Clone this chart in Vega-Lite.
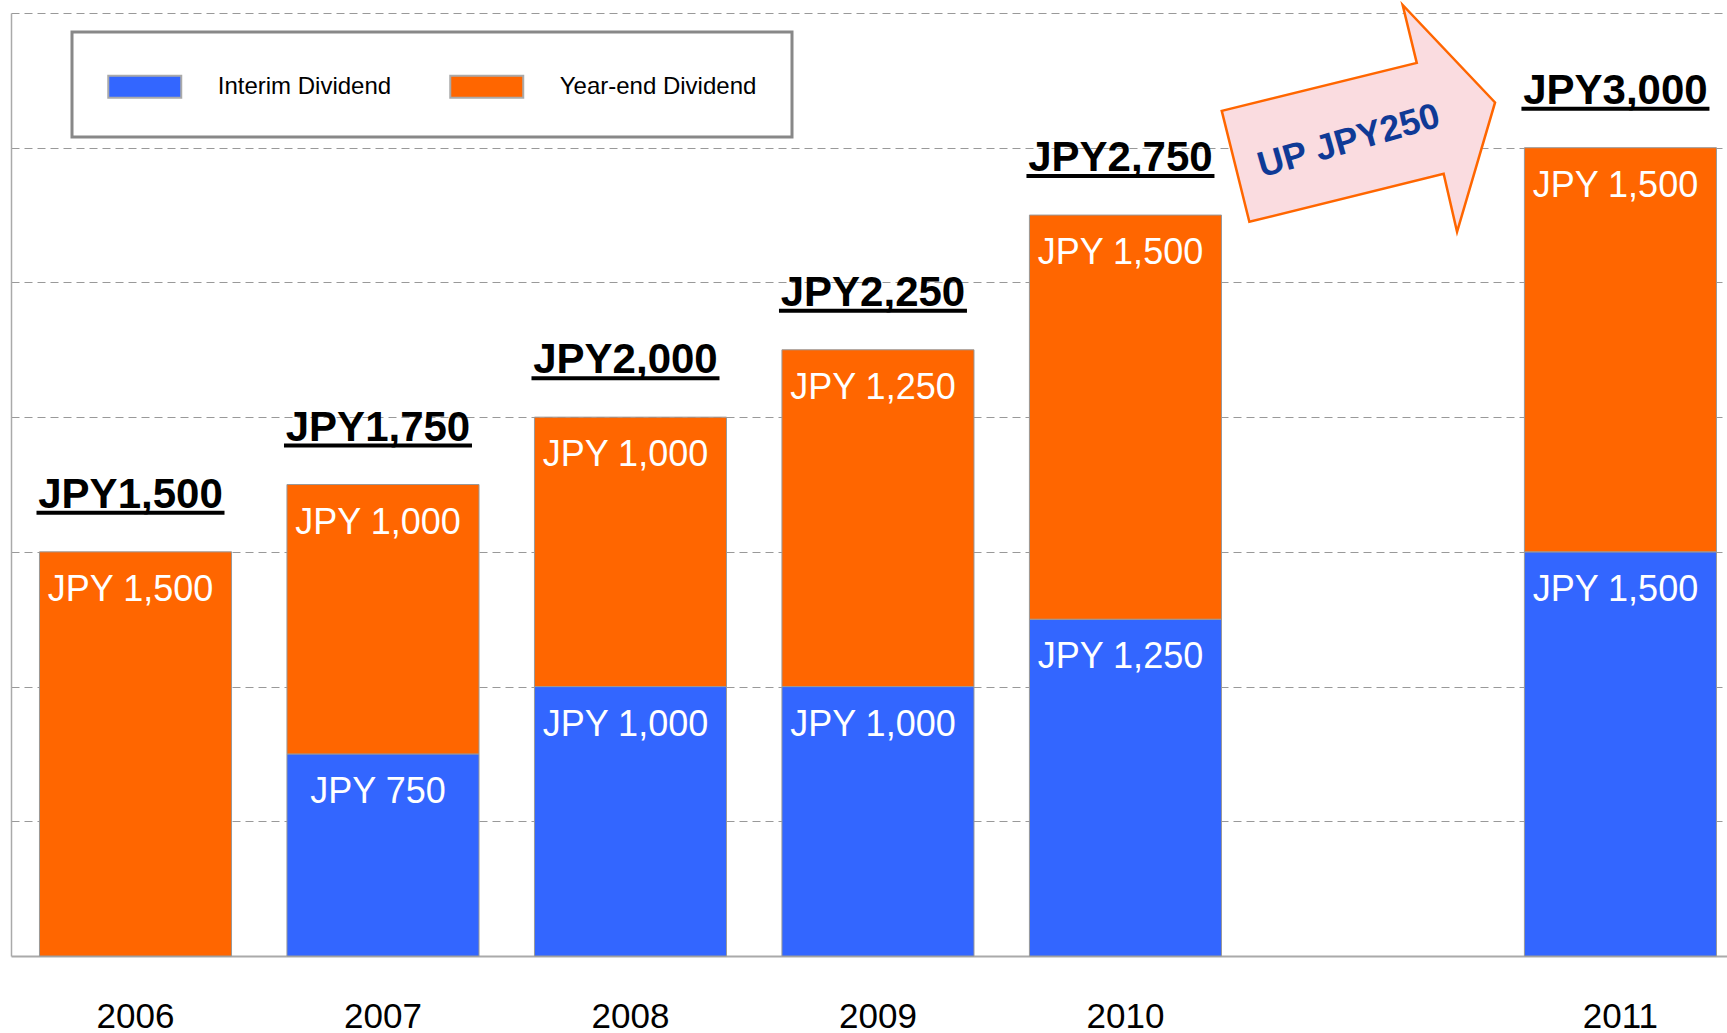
{
  "$schema": "https://vega.github.io/schema/vega-lite/v6.json",
  "width": 1716,
  "height": 943,
  "autosize": {"type": "none"},
  "padding": {"left": 11, "top": 13, "right": 0, "bottom": 77},
  "background": "white",
  "config": {"view": {"stroke": null}, "font": "Liberation Sans"},
  "datasets": {
    "dividends": [
      {"year": "2006", "type": "Year-end Dividend", "value": 1500, "label": "JPY 1,500"},
      {"year": "2007", "type": "Interim Dividend", "value": 750, "label": "JPY 750"},
      {"year": "2007", "type": "Year-end Dividend", "value": 1000, "label": "JPY 1,000"},
      {"year": "2008", "type": "Interim Dividend", "value": 1000, "label": "JPY 1,000"},
      {"year": "2008", "type": "Year-end Dividend", "value": 1000, "label": "JPY 1,000"},
      {"year": "2009", "type": "Interim Dividend", "value": 1000, "label": "JPY 1,000"},
      {"year": "2009", "type": "Year-end Dividend", "value": 1250, "label": "JPY 1,250"},
      {"year": "2010", "type": "Interim Dividend", "value": 1250, "label": "JPY 1,250"},
      {"year": "2010", "type": "Year-end Dividend", "value": 1500, "label": "JPY 1,500"},
      {"year": "2011", "type": "Interim Dividend", "value": 1500, "label": "JPY 1,500"},
      {"year": "2011", "type": "Year-end Dividend", "value": 1500, "label": "JPY 1,500"}
    ],
    "totals": [
      {"year": "2006", "total": 1500, "label": "JPY1,500"},
      {"year": "2007", "total": 1750, "label": "JPY1,750"},
      {"year": "2008", "total": 2000, "label": "JPY2,000"},
      {"year": "2009", "total": 2250, "label": "JPY2,250"},
      {"year": "2010", "total": 2750, "label": "JPY2,750"},
      {"year": "2011", "total": 3000, "label": "JPY3,000"}
    ],
    "arrow": [
      {"year": " ", "v": 3100, "tv": 3050, "label": "UP JPY250"}
    ]
  },
  "layer": [
    {
      "data": {"name": "dividends"},
      "transform": [
        {"stack": "value", "groupby": ["year"], "sort": [{"field": "type", "order": "ascending"}], "as": ["v0", "v1"]}
      ],
      "layer": [
        {
          "mark": {"type": "bar", "stroke": "#999999", "strokeWidth": 1},
          "encoding": {
            "x": {
              "field": "year",
              "type": "nominal",
              "scale": {
                "domain": ["2006", "2007", "2008", "2009", "2010", " ", "2011"],
                "paddingInner": 0.224,
                "paddingOuter": 0.0788,
                "align": 0.73
              },
              "axis": {
                "title": null,
                "ticks": false,
                "tickSize": 0,
                "labelAngle": 0,
                "labelFontSize": 35,
                "labelColor": "black",
                "labelFont": "Liberation Sans",
                "labelBaseline": "alphabetic",
                "labelPadding": 71,
                "domainColor": "#aaaaaa",
                "domainWidth": 2,
                "grid": false
              }
            },
            "y": {
              "field": "v1",
              "type": "quantitative",
              "scale": {"domain": [0, 3500], "nice": false},
              "axis": {
                "values": [500, 1000, 1500, 2000, 2500, 3000, 3500],
                "labels": false,
                "ticks": false,
                "title": null,
                "grid": true,
                "gridDash": [8, 5],
                "gridColor": "#999999",
                "gridWidth": 1,
                "domain": true,
                "domainColor": "#aaaaaa",
                "domainWidth": 1.5
              }
            },
            "y2": {"field": "v0"},
            "color": {
              "field": "type",
              "type": "nominal",
              "scale": {"domain": ["Interim Dividend", "Year-end Dividend"], "range": ["#3366FF", "#FF6600"]},
              "legend": {
                "orient": "none",
                "legendX": 61,
                "legendY": 19,
                "direction": "horizontal",
                "title": null,
                "symbolType": "M-2,-0.6H2V0.6H-2Z",
                "symbolSize": 1332.25,
                "symbolOffset": 18.25,
                "symbolStrokeColor": "#aaaaaa",
                "symbolStrokeWidth": 2,
                "symbolOpacity": 1,
                "labelFontSize": 24,
                "labelFont": "Liberation Sans",
                "labelColor": "black",
                "labelOffset": 53.5,
                "labelLimit": 500,
                "columnPadding": 54,
                "padding": 35,
                "strokeColor": "#888888",
                "fillColor": "white",
                "encode": {"legend": {"update": {"strokeWidth": {"value": 3}}}}
              }
            }
          }
        },
        {
          "mark": {"type": "text", "fontSize": 36, "color": "white", "dy": 49, "dx": -5, "baseline": "alphabetic", "align": "center", "font": "Liberation Sans"},
          "encoding": {
            "x": {"field": "year", "type": "nominal"},
            "y": {"field": "v1", "type": "quantitative"},
            "text": {"field": "label"}
          }
        }
      ]
    },
    {
      "data": {"name": "totals"},
      "layer": [
        {
          "mark": {"type": "text", "fontSize": 42, "fontWeight": "bold", "color": "black", "dy": -44, "dx": -5, "baseline": "alphabetic", "align": "center", "font": "Liberation Sans"},
          "encoding": {
            "x": {"field": "year", "type": "nominal"},
            "y": {"field": "total", "type": "quantitative"},
            "text": {"field": "label"}
          }
        },
        {
          "mark": {"type": "tick", "orient": "horizontal", "size": 188, "thickness": 4, "color": "black", "opacity": 1, "xOffset": -5, "yOffset": -39},
          "encoding": {
            "x": {"field": "year", "type": "nominal"},
            "y": {"field": "total", "type": "quantitative"}
          }
        }
      ]
    },
    {
      "data": {"name": "arrow"},
      "layer": [
        {
          "mark": {
            "type": "point",
            "shape": "M-1.512,-0.099L0.438,-0.579L0.297,-1.158L1.221,-0.183L0.841,1.111L0.707,0.53L-1.236,1.01Z",
            "size": 40000,
            "filled": true,
            "fill": "#FADCE0",
            "stroke": "#FF6600",
            "strokeWidth": 2.5,
            "opacity": 1
          },
          "encoding": {
            "x": {"field": "year", "type": "nominal"},
            "y": {"field": "v", "type": "quantitative"}
          }
        },
        {
          "mark": {"type": "text", "fontSize": 36, "fontWeight": "bold", "color": "#0F3A96", "angle": 344, "dx": -25, "baseline": "middle", "align": "center", "font": "Liberation Sans"},
          "encoding": {
            "x": {"field": "year", "type": "nominal"},
            "y": {"field": "tv", "type": "quantitative"},
            "text": {"field": "label"}
          }
        }
      ]
    }
  ]
}
